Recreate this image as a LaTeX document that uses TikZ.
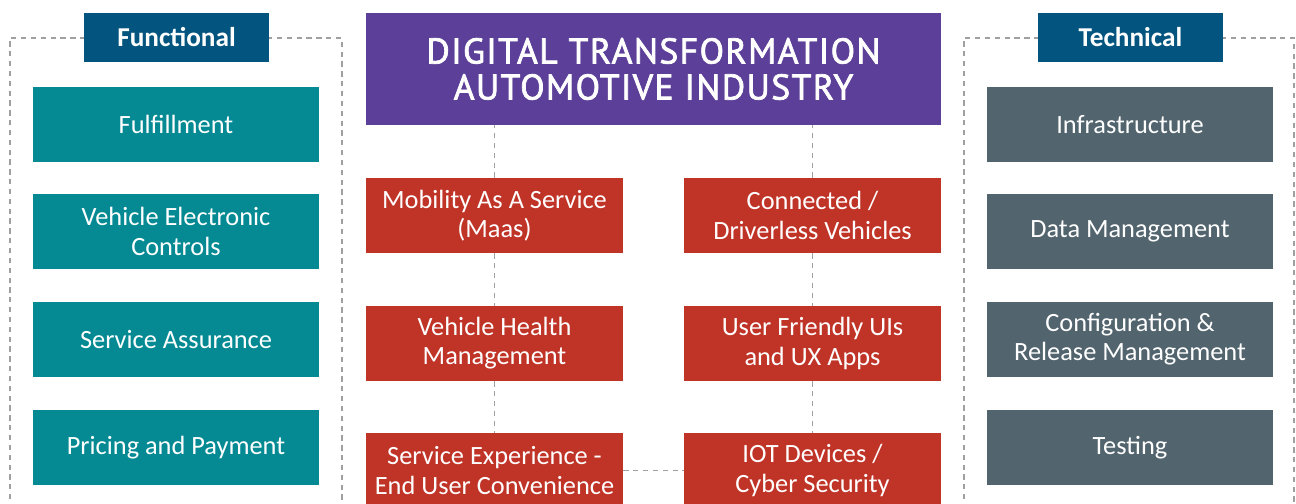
\documentclass[tikz,border=0pt]{standalone}
\usepackage{fontspec}
\setmainfont{Carlito}
\newfontfamily\headfont[FakeBold=2, LetterSpace=4]{PT Sans}
\usepackage{xcolor}
\usepackage{tikz}
\usetikzlibrary{positioning}
\definecolor{functeal}{RGB}{5, 138, 148}
\definecolor{techslate}{RGB}{82, 100, 110}
\definecolor{titlepurple}{RGB}{92, 63, 152}
\definecolor{trendred}{RGB}{192, 52, 40}
\definecolor{tagblue}{RGB}{3, 85, 128}
\definecolor{dashgray}{RGB}{160, 160, 160}

\begin{document}
\begin{tikzpicture}[
    funcbox/.style={rectangle, fill=functeal, minimum width=5.72cm, minimum height=1.5cm,
                    text=white, font=\fontsize{15}{16.6}\selectfont, align=center, inner sep=0pt},
    techbox/.style={funcbox, fill=techslate},
    trendbox/.style={funcbox, fill=trendred, minimum width=5.14cm},
    tag/.style={rectangle, fill=tagblue, minimum width=3.7cm, minimum height=0.98cm,
                text=white, font=\fontsize{15.5}{16}\selectfont\bfseries, inner sep=0pt},
    frame/.style={dashgray, line width=0.9pt, dash pattern=on 3pt off 2.6pt},
    link/.style={dashgray, line width=0.9pt, dash pattern=on 3pt off 2.6pt}
]
\useasboundingbox (0,0) rectangle (25.92,10.08);

% Dashed group frames (open at the bottom)
\draw[frame] (0.2,-0.3) -- (0.2,9.32) -- (6.84,9.32) -- (6.84,-0.3);
\draw[frame] (19.28,-0.3) -- (19.28,9.32) -- (25.88,9.32) -- (25.88,-0.3);

% Group tags
\node[tag] (functional) at (3.53,9.33) {Functional};
\node[tag] (technical) at (22.61,9.33) {Technical};

% Functional column
\node[funcbox] (fulfil) at (3.52,7.59) {Fulfillment};
\node[funcbox] (controls) at (3.52,5.45) {Vehicle Electronic\\Controls};
\node[funcbox] (assurance) at (3.52,3.29) {Service Assurance};
\node[funcbox] (pricing) at (3.52,1.13) {Pricing and Payment};

% Technical column
\node[techbox] (infra) at (22.6,7.59) {Infrastructure};
\node[techbox] (datamgmt) at (22.6,5.45) {Data Management};
\node[techbox] (release) at (22.6,3.29) {Configuration \&\\Release Management};
\node[techbox] (testing) at (22.6,1.13) {Testing};

% Title
\node[rectangle, fill=titlepurple, minimum width=11.5cm, minimum height=2.24cm,
      text=white, font=\headfont\fontsize{20.3}{20.5}\selectfont, align=center] (title) at (13.07,8.7)
    {DIGITAL TRANSFORMATION\\AUTOMOTIVE INDUSTRY};

% Trend boxes
\node[trendbox] (maas) at (9.89,5.77) {Mobility As A Service\\(Maas)};
\node[trendbox] (driverless) at (16.25,5.77) {Connected /\\Driverless Vehicles};
\node[trendbox] (health) at (9.89,3.21) {Vehicle Health\\Management};
\node[trendbox] (uiux) at (16.25,3.21) {User Friendly UIs\\and UX Apps};
\node[trendbox] (experience) at (9.89,0.67) {Service Experience -\\End User Convenience};
\node[trendbox] (iot) at (16.25,0.67) {IOT Devices /\\Cyber Security};

% Dashed links
\draw[link] (maas.north) -- (maas.north |- title.south);
\draw[link] (driverless.north) -- (driverless.north |- title.south);
\draw[link] (maas) -- (health);
\draw[link] (health) -- (experience);
\draw[link] (driverless) -- (uiux);
\draw[link] (uiux) -- (iot);
\draw[link] (experience) -- (iot);

\end{tikzpicture}
\end{document}
